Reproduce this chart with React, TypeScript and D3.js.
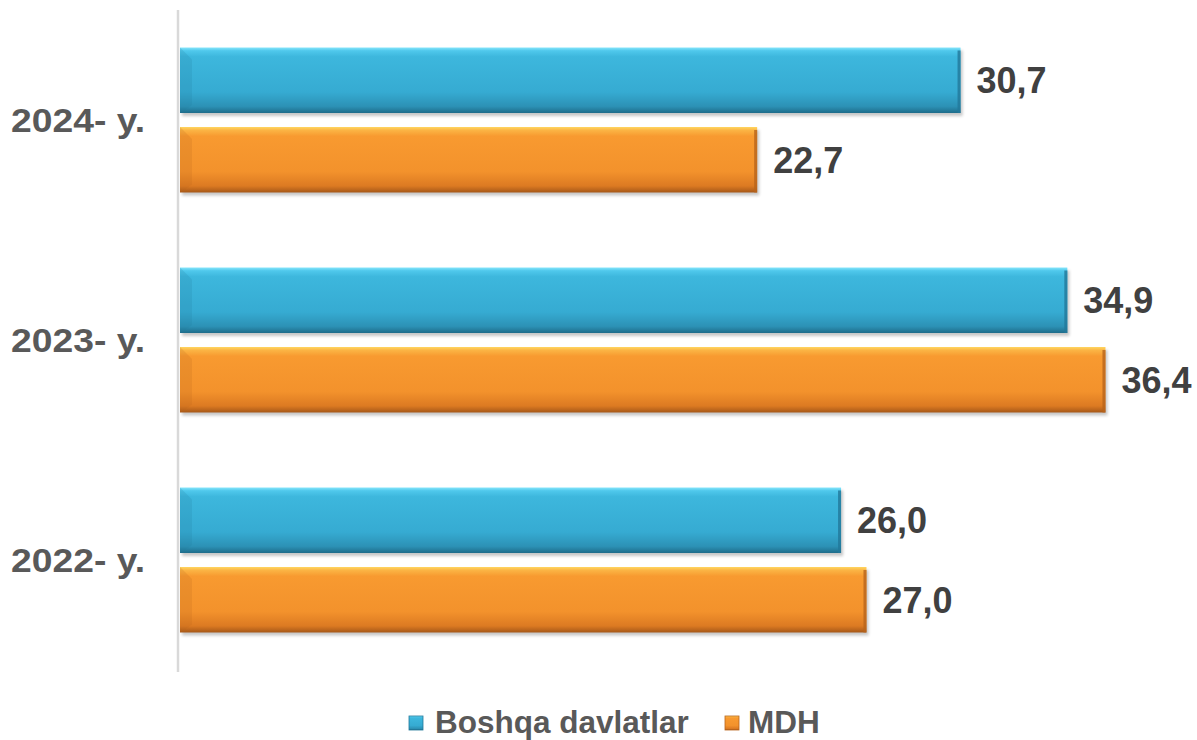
import React from "react";
import * as d3 from "d3";

const categories = ["2024- y.", "2023- y.", "2022- y."];
const seriesNames = ["Boshqa davlatlar", "MDH"];
const boshqaValues = [30.7, 34.9, 26.0];
const mdhValues = [22.7, 36.4, 27.0];

const W = 1197;
const H = 740;

const palettes = [
  { id: "gBlue", stops: ["#86e6fb", "#4fc8ec", "#3db7dd", "#36abd2", "#2c91b5", "#1e6c8a"], edge: "#22789a" },
  { id: "gOrange", stops: ["#ffd660", "#fbb444", "#f89a30", "#f3922c", "#dc7a22", "#a65818"], edge: "#b8641c" },
];
const stopOffsets = ["0%", "5%", "14%", "68%", "90%", "100%"];

export default function App() {
  const x = d3.scaleLinear().domain([0, 40]).range([180, 1197]);
  const y0 = d3.scaleBand<string>().domain(categories).range([10, 670]).paddingInner(0.341).paddingOuter(0.1705);
  const y1 = d3.scaleBand<string>().domain(seriesNames).range([0, y0.bandwidth()]).paddingInner(0.176);
  const values = [boshqaValues, mdhValues];
  const fmt = (v: number) => v.toFixed(1).replace(".", ",");

  return (
    <svg width={W} height={H} style={{ position: "absolute", left: 0, top: 0, background: "#fff" }}
      fontFamily="'Liberation Sans', Arial, sans-serif">
      <defs>
        {palettes.map((p) => (
          <linearGradient key={p.id} id={p.id} x1="0" y1="0" x2="0" y2="1">
            {p.stops.map((c, i) => (
              <stop key={i} offset={stopOffsets[i]} stopColor={c} />
            ))}
          </linearGradient>
        ))}
        <filter id="shadow" x="-5%" y="-20%" width="110%" height="160%">
          <feGaussianBlur stdDeviation="1.5" />
        </filter>
      </defs>
      <rect x={0} y={0} width={W} height={H} fill="#fff" />
      <line x1={178} x2={178} y1={10} y2={672} stroke="#d9d9d9" strokeWidth={2.5} />
      {categories.map((cat, ci) => {
        const gy = y0(cat)!;
        return (
          <g key={cat}>
            {seriesNames.map((s, si) => {
              const v = values[si][ci];
              const by = gy + y1(s)!;
              const bh = y1.bandwidth();
              const bx = x(0);
              const bw = x(v) - x(0);
              const p = palettes[si];
              return (
                <g key={s}>
                  <rect x={bx + 2} y={by + 3} width={bw} height={bh} fill="#000" opacity={0.22} filter="url(#shadow)" />
                  <rect x={bx} y={by} width={bw} height={bh} fill={`url(#${p.id})`} />
                  <rect x={bx + bw - 3} y={by + 3} width={3} height={bh - 3} fill={p.edge} opacity={0.8} />
                  <polygon points={`${bx},${by} ${bx + 12},${by + 12} ${bx + 12},${by + bh - 8} ${bx},${by + bh}`} fill={p.edge} opacity={0.18} />
                  <text x={x(v) + 16} y={by + bh / 2} dy="0.36em" fontSize={36} fontWeight="bold" fill="#404040">
                    {fmt(v)}
                  </text>
                </g>
              );
            })}
            <text x={11} y={gy + y0.bandwidth() / 2} dy="0.36em" fontSize={34} fontWeight="bold" fill="#595959"
              textLength={134} lengthAdjust="spacingAndGlyphs">
              {cat}
            </text>
          </g>
        );
      })}
      <g>
        {[
          { mx: 409, tx: 435 },
          { mx: 725, tx: 748 },
        ].map((l, i) => (
          <g key={i}>
            <rect x={l.mx} y={716} width={14} height={14} fill={`url(#${palettes[i].id})`} stroke={palettes[i].edge} strokeWidth={0.8} />
            <text x={l.tx} y={733} fontSize={31.5} fontWeight="bold" fill="#595959">
              {seriesNames[i]}
            </text>
          </g>
        ))}
      </g>
    </svg>
  );
}
